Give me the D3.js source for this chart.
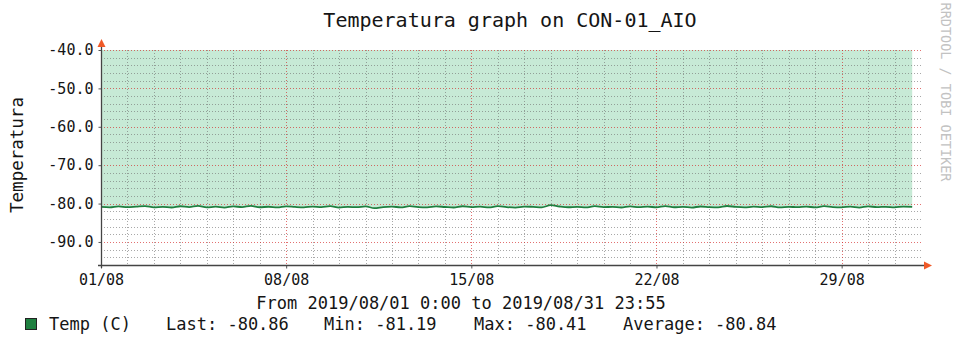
<!DOCTYPE html>
<html>
<head>
<meta charset="utf-8">
<script src="https://cdn.jsdelivr.net/npm/d3@7"></script>
<style>
  body { margin: 0; background: #fff; }
  svg { display: block; }
  text { font-family: "DejaVu Sans Mono", monospace; fill: #151515; }
</style>
</head>
<body>
<svg id="chart" width="954" height="337"></svg>
<script>
// ---- data ----
const chartTitle = "Temperatura graph on CON-01_AIO";
const yAxisTitle = "Temperatura";
const periodLabel = "From 2019/08/01 0:00 to 2019/08/31 23:55";
const watermark = "RRDTOOL / TOBI OETIKER";
const seriesName = "Temp (C)";
const legendStats = ["Last: -80.86", "Min: -81.19", "Max: -80.41", "Average: -80.84"];

const yMajorTicks = [-90, -80, -70, -60, -50, -40];
const yTickLabels = ["-90.0", "-80.0", "-70.0", "-60.0", "-50.0", "-40.0"];

const xTickDates = ["2019-08-01", "2019-08-08", "2019-08-15", "2019-08-22", "2019-08-29"];
const xTickLabels = ["01/08", "08/08", "15/08", "22/08", "29/08"];

const periodStart = "2019-08-01T00:00:00Z";
const periodEnd = "2019-09-01T00:00:00Z";
const sampleStepHours = 8;

// temperature samples, one every 8 hours
const tempValues = [
  -80.86, -80.98, -80.72, -80.95, -80.80, -80.66, -80.97, -80.84, -81.02, -80.70,
  -80.90, -80.62, -80.99, -80.81, -81.04, -80.74, -80.92, -80.60, -80.96, -80.83,
  -81.01, -80.71, -80.88, -80.99, -80.77, -80.93, -80.68, -81.03, -80.85, -80.95,
  -80.73, -81.19, -80.91, -80.79, -81.00, -80.66, -80.92, -80.97, -80.75, -80.89,
  -81.02, -80.70, -80.94, -80.82, -80.99, -80.67, -80.91, -81.03, -80.78, -80.86,
  -80.97, -80.41, -80.76, -80.96, -80.84, -81.00, -80.69, -80.92, -80.87, -81.02,
  -80.72, -80.95, -80.80, -80.99, -80.65, -80.96, -80.85, -81.03, -80.76, -80.90,
  -80.97, -80.63, -80.88, -81.00, -80.81, -80.94, -80.70, -80.99, -80.84, -80.95,
  -80.77, -81.01, -80.68, -80.91, -80.97, -80.79, -81.04, -80.73, -80.93, -80.84,
  -80.98, -80.78, -80.86
];

// ---- layout ----
const plot = { left: 101, right: 921, top: 50, bottom: 265 };
const lineColor = "#1f8040";
const areaColor = "rgba(0,160,70,0.22)";
const minorGrid = "rgba(110,110,110,0.6)";
const majorGrid = "rgba(210,35,35,0.65)";
const arrowColor = "#f05a28";

const svg = d3.select("#chart");

const t0 = new Date(periodStart);
const samples = tempValues.map((v, i) => ({
  t: d3.utcHour.offset(t0, i * sampleStepHours),
  v
}));

const x = d3.scaleUtc()
  .domain([t0, new Date(periodEnd)])
  .range([plot.left, plot.right]);

const y = d3.scaleLinear()
  .domain([-96, -40])
  .range([plot.bottom, plot.top]);

// area from the top of the graph down to the reading
const area = d3.area()
  .x(d => x(d.t))
  .y0(y(-40))
  .y1(d => y(d.v));

svg.append("path")
  .datum(samples)
  .attr("d", area)
  .attr("fill", areaColor);

// grid
const grid = svg.append("g");
const minorY = d3.range(-96, -40, 2).filter(v => v % 10 !== 0);
grid.selectAll(".gy").data(minorY).join("line")
  .attr("x1", plot.left).attr("x2", plot.right)
  .attr("y1", d => Math.round(y(d)) + 0.5).attr("y2", d => Math.round(y(d)) + 0.5)
  .attr("stroke", minorGrid).attr("stroke-dasharray", "1,2");

const days = d3.utcDay.range(d3.utcDay.offset(t0, 1), new Date(periodEnd));
const majorDates = xTickDates.map(d => +new Date(d + "T00:00:00Z"));
grid.selectAll(".gx").data(days.filter(d => !majorDates.includes(+d))).join("line")
  .attr("x1", d => Math.round(x(d)) + 0.5).attr("x2", d => Math.round(x(d)) + 0.5)
  .attr("y1", plot.top).attr("y2", plot.bottom)
  .attr("stroke", minorGrid).attr("stroke-dasharray", "1,2");

grid.selectAll(".my").data(yMajorTicks).join("line")
  .attr("x1", plot.left).attr("x2", plot.right)
  .attr("y1", d => Math.round(y(d)) + 0.5).attr("y2", d => Math.round(y(d)) + 0.5)
  .attr("stroke", majorGrid).attr("stroke-dasharray", "1,2");

grid.selectAll(".mx").data(majorDates.slice(1)).join("line")
  .attr("x1", d => Math.round(x(d)) + 0.5).attr("x2", d => Math.round(x(d)) + 0.5)
  .attr("y1", plot.top).attr("y2", plot.bottom)
  .attr("stroke", majorGrid).attr("stroke-dasharray", "1,2");

// reading line
svg.append("path")
  .datum(samples)
  .attr("d", d3.line().x(d => x(d.t)).y(d => y(d.v)).curve(d3.curveMonotoneX))
  .attr("fill", "none")
  .attr("stroke", lineColor)
  .attr("stroke-width", 1.8);

// axes
const yAxis = d3.axisLeft(y)
  .tickValues(yMajorTicks)
  .tickFormat((d, i) => yTickLabels[i])
  .tickSize(3)
  .tickPadding(5);
const gy = svg.append("g")
  .attr("transform", `translate(${plot.left + 0.5},0)`)
  .call(yAxis);
gy.select(".domain").remove();
gy.selectAll(".tick line").attr("stroke", "#555");
gy.selectAll(".tick text")
  .style("font-size", "15px")
  .attr("fill", "#151515");

const xAxis = d3.axisBottom(x)
  .tickValues(majorDates.map(d => new Date(d)))
  .tickFormat((d, i) => xTickLabels[i])
  .tickSize(3)
  .tickPadding(6);
const gx = svg.append("g")
  .attr("transform", `translate(0,${plot.bottom + 0.5})`)
  .call(xAxis);
gx.select(".domain").remove();
gx.selectAll(".tick line").attr("stroke", "#555");
gx.selectAll(".tick text")
  .style("font-size", "15px")
  .attr("fill", "#151515");

// axis lines with arrow heads
svg.append("line")
  .attr("x1", plot.left + 0.5).attr("x2", plot.left + 0.5)
  .attr("y1", plot.bottom + 3).attr("y2", plot.top - 7)
  .attr("stroke", "#444").attr("stroke-width", 1.3);
svg.append("line")
  .attr("x1", plot.left - 3).attr("x2", plot.right + 7)
  .attr("y1", plot.bottom + 0.5).attr("y2", plot.bottom + 0.5)
  .attr("stroke", "#444").attr("stroke-width", 1.3);

svg.append("path")
  .attr("d", `M${plot.left + 0.5},${plot.top - 11} l-4,8 l8,0 z`)
  .attr("fill", arrowColor);
svg.append("path")
  .attr("d", `M${plot.right + 11},${plot.bottom + 0.5} l-8,-4 l0,8 z`)
  .attr("fill", arrowColor);

// titles
svg.append("text")
  .attr("x", 510).attr("y", 27)
  .attr("text-anchor", "middle")
  .style("font-size", "20px")
  .text(chartTitle);

svg.append("text")
  .attr("transform", "translate(23,155) rotate(-90)")
  .attr("text-anchor", "middle")
  .style("font-size", "17.5px")
  .text(yAxisTitle);

svg.append("text")
  .attr("transform", "translate(941,92) rotate(90)")
  .attr("text-anchor", "middle")
  .style("font-size", "13.5px")
  .style("fill", "#c2c2c2")
  .text(watermark);

svg.append("text")
  .attr("x", 461).attr("y", 309)
  .attr("text-anchor", "middle")
  .style("font-size", "17px")
  .text(periodLabel);

// legend
svg.append("rect")
  .attr("x", 25.5).attr("y", 318.5)
  .attr("width", 11).attr("height", 11)
  .attr("fill", lineColor)
  .attr("stroke", "#222");

const legendX = [49, 166, 324, 474, 623];
svg.selectAll(".leg").data([seriesName, ...legendStats]).join("text")
  .attr("x", (d, i) => legendX[i])
  .attr("y", 330)
  .style("font-size", "17px")
  .text(d => d);
</script>
</body>
</html>
